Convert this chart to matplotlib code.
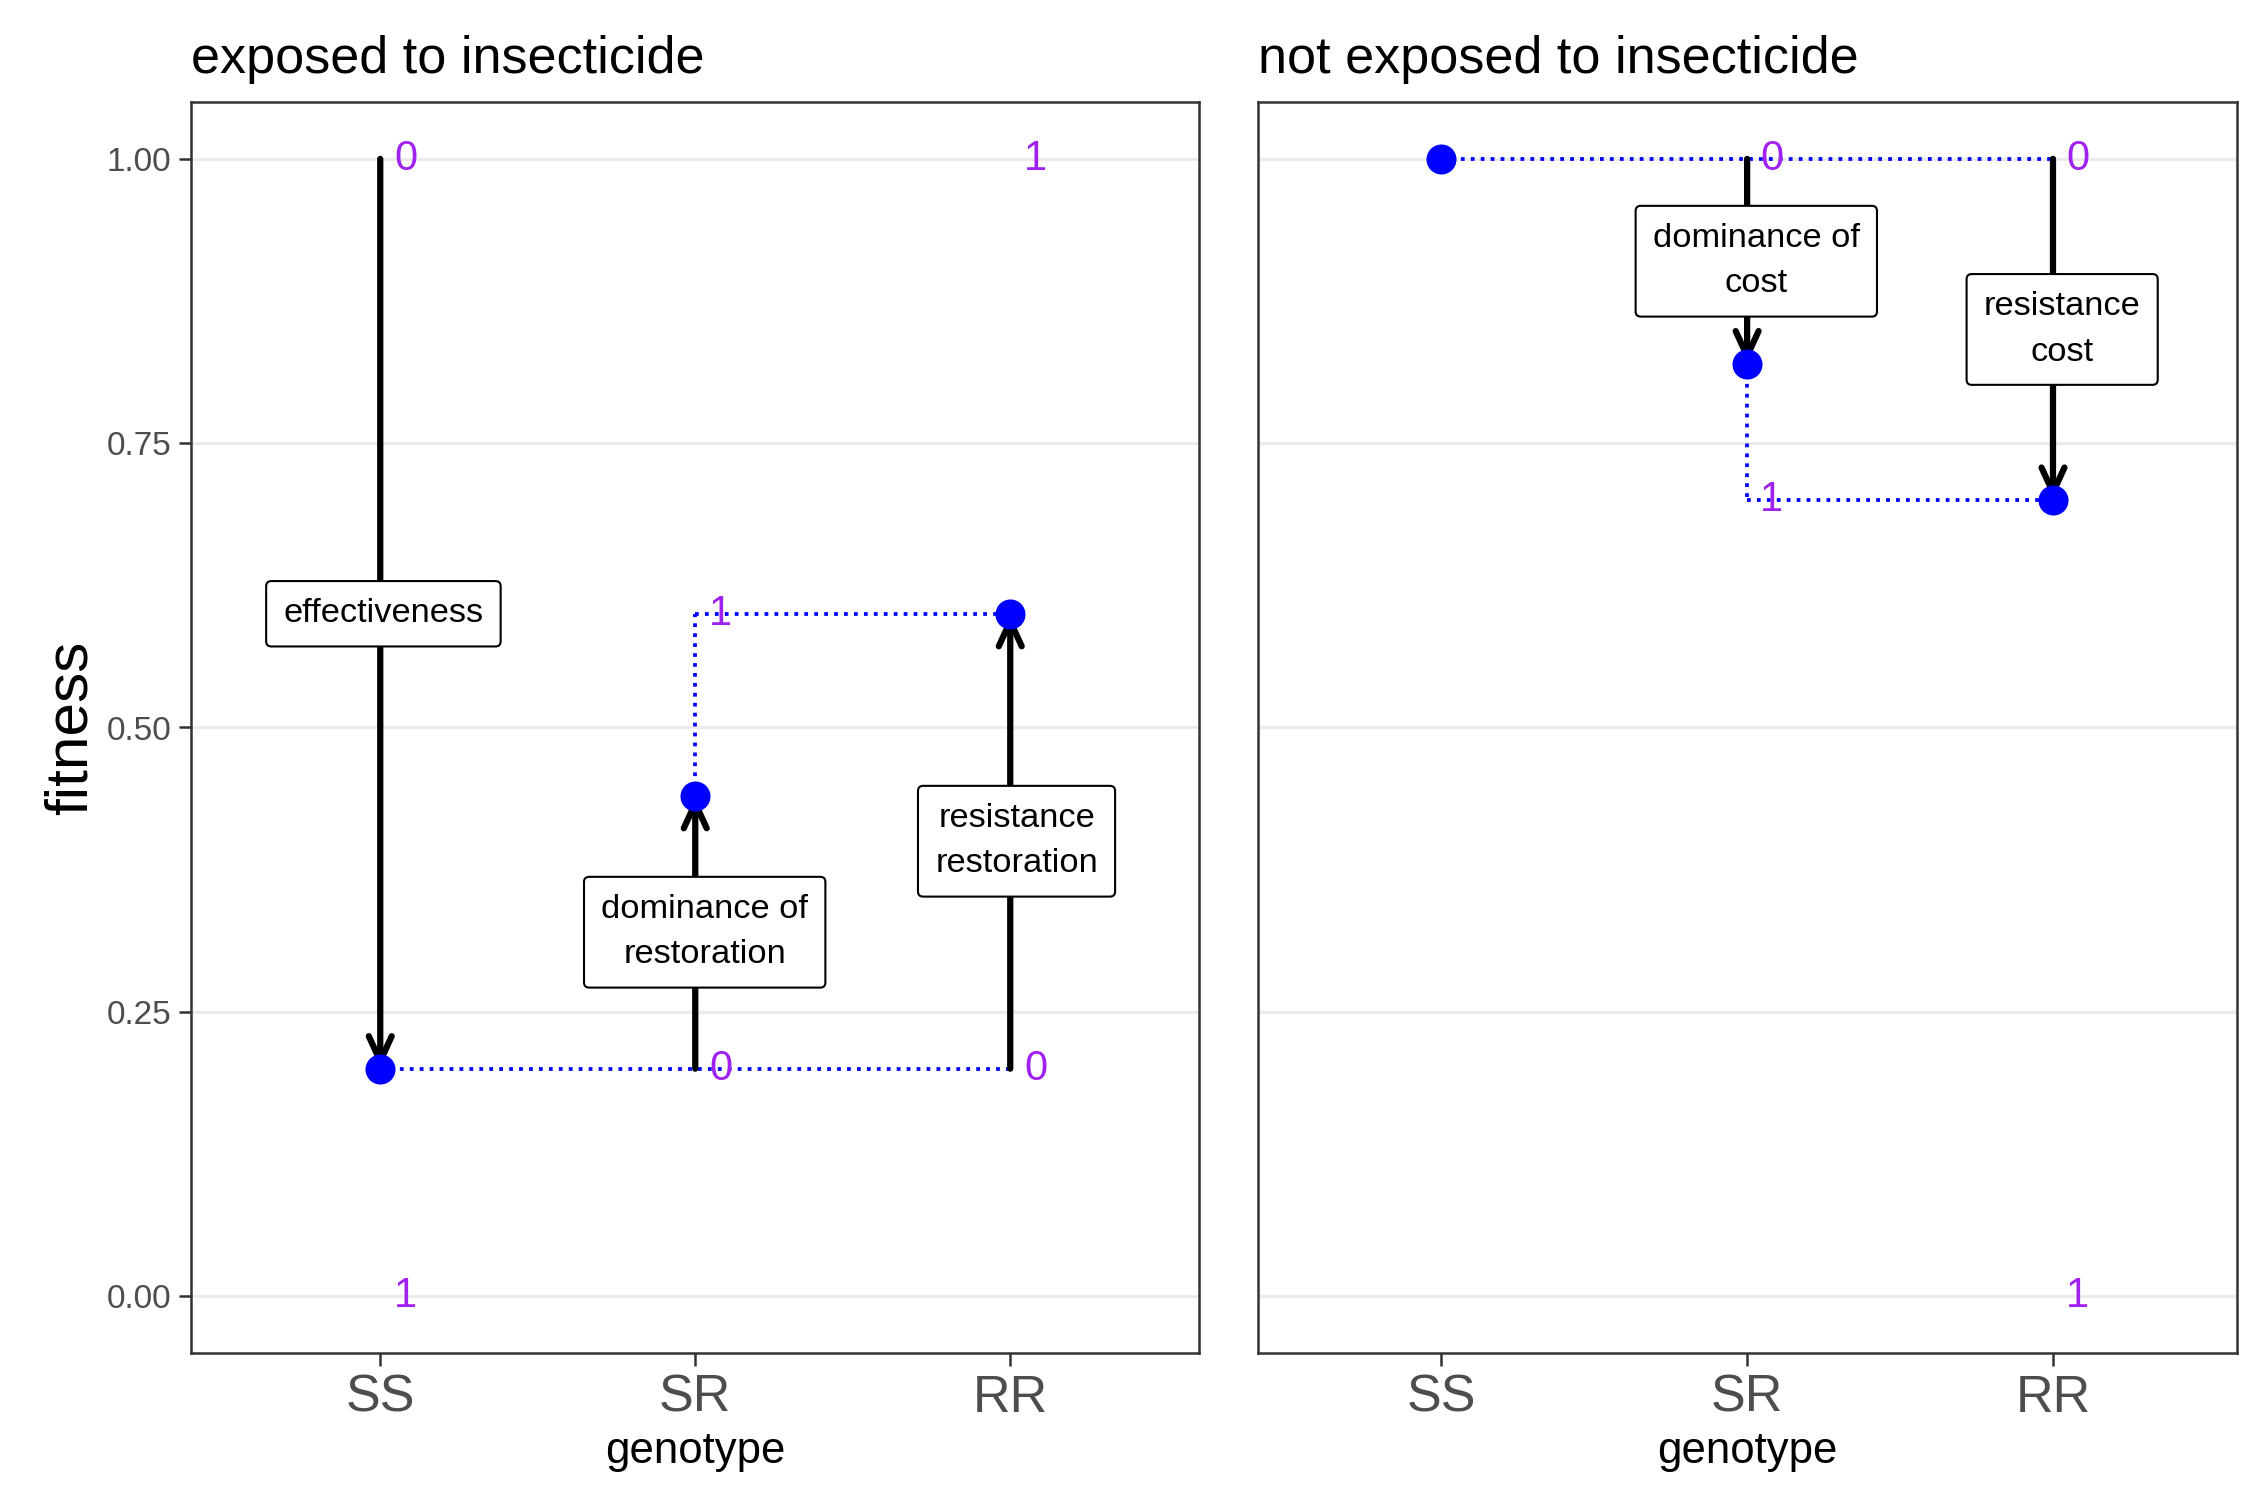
import matplotlib
matplotlib.use("Agg")
import matplotlib.pyplot as plt

genotypes = ["SS", "SR", "RR"]
gx = [1, 2, 3]
titles = ["exposed to insecticide", "not exposed to insecticide"]

fit_exposed = [0.2, 0.44, 0.6]
fit_unexposed = [1.0, 0.82, 0.7]

# arrows: (x, y_start, y_end)
arrows_exposed = [(1, 1.0, 0.2), (2, 0.2, 0.44), (3, 0.2, 0.6)]
arrows_unexposed = [(2, 1.0, 0.82), (3, 1.0, 0.7)]

# dotted guide lines: (x0, y0, x1, y1)
dots_exposed = [(1, 0.2, 3, 0.2), (2, 0.44, 2, 0.6), (2, 0.6, 3, 0.6)]
dots_unexposed = [(1, 1.0, 3, 1.0), (2, 0.82, 2, 0.7), (2, 0.7, 3, 0.7)]

# purple scale numbers: (x, y, text)
nums_exposed = [(1, 1.0, "0"), (1, 0.0, "1"), (3, 1.0, "1"), (3, 0.2, "0"),
                (2, 0.2, "0"), (2, 0.6, "1")]
nums_unexposed = [(2, 1.0, "0"), (2, 0.7, "1"), (3, 1.0, "0"), (3, 0.0, "1")]

# boxed labels: (x, y, text)
labels_exposed = [(1.01, 0.60, "effectiveness"),
                  (2.03, 0.32, "dominance of\nrestoration"),
                  (3.02, 0.40, "resistance\nrestoration")]
labels_unexposed = [(2.03, 0.91, "dominance of\ncost"),
                    (3.03, 0.85, "resistance\ncost")]

plt.rcParams["font.family"] = ["Liberation Sans", "DejaVu Sans"]
fig = plt.figure(figsize=(15, 10), dpi=150)
axes = [fig.add_axes([0.085, 0.098, 0.448, 0.834]),
        fig.add_axes([0.559, 0.098, 0.435, 0.834])]

panels = [(fit_exposed, arrows_exposed, dots_exposed, nums_exposed, labels_exposed),
          (fit_unexposed, arrows_unexposed, dots_unexposed, nums_unexposed, labels_unexposed)]

for i, (ax, (fit, arr, dots, nums, labs)) in enumerate(zip(axes, panels)):
    ax.set_xlim(0.4, 3.6)
    ax.set_ylim(-0.05, 1.05)
    ax.set_yticks([0, 0.25, 0.5, 0.75, 1.0])
    ax.grid(axis="y", color="#ebebeb", lw=1.5, zorder=0)
    ax.set_axisbelow(True)
    for x0, y0, x1, y1 in dots:
        ax.plot([x0, x1], [y0, y1], color="blue", ls=":", lw=1.8, zorder=2)
    for x, ya, yb in arr:
        ax.annotate("", xy=(x, yb), xytext=(x, ya),
                    arrowprops=dict(arrowstyle="->,head_length=1.2,head_width=0.55",
                                    color="black", lw=3, shrinkA=0, shrinkB=0), zorder=3)
    ax.scatter(gx, fit, s=180, color="blue", zorder=4)
    for x, y, t in nums:
        ax.text(x + 0.08, y, t, color="#A020F0", fontsize=20, ha="center", va="center", zorder=5)
    for x, y, t in labs:
        ax.text(x, y, t, fontsize=16.5, ha="center", va="center", linespacing=1.6, zorder=6,
                bbox=dict(boxstyle="round,pad=0.5,rounding_size=0.15", fc="white", ec="black", lw=1))
    ax.set_xticks(gx)
    ax.set_xticklabels(genotypes, fontsize=25, color="#4d4d4d")
    ax.set_xlabel("genotype", fontsize=21)
    ax.set_title(titles[i], fontsize=25, loc="left", pad=14)
    ax.tick_params(axis="x", length=6, width=1.2, color="#333333", pad=4)
    ax.tick_params(axis="y", length=6, width=1.2, color="#333333", labelsize=16, labelcolor="#4d4d4d")
    for s in ax.spines.values():
        s.set_color("#333333")
        s.set_linewidth(1.2)

axes[0].set_yticklabels(["0.00", "0.25", "0.50", "0.75", "1.00"])
axes[0].set_ylabel("fitness", fontsize=29)
axes[1].set_yticklabels([])
axes[1].tick_params(axis="y", length=0)

fig.savefig("out.png", dpi=150, facecolor="white")
